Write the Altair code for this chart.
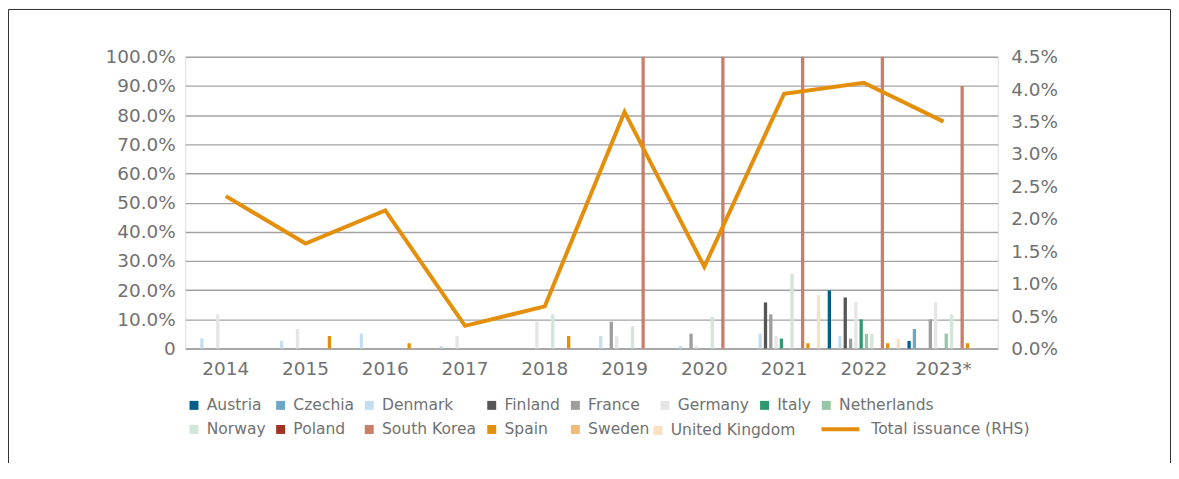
import altair as alt
import pandas as pd

years = ["2014", "2015", "2016", "2017", "2018", "2019", "2020", "2021", "2022", "2023*"]
countries = ["Austria", "Czechia", "Denmark", "Finland", "France", "Germany", "Italy",
             "Netherlands", "Norway", "Poland", "South Korea", "Spain", "Sweden", "United Kingdom"]
colors = ["#005f89", "#6ea6c6", "#c4def0", "#555555", "#9d9d9d", "#e5e5e5", "#2f9a6f",
          "#97c6a6", "#d1e5d8", "#a03421", "#c97e68", "#e48f0b", "#f0ba78", "#fbdfc1"]

# share of issuance by country, percent
austria = [0, 0, 0, 0, 0, 0, 0, 0, 19.9, 2.6]
czechia = [0, 0, 0, 0, 0, 0, 0, 0, 0, 6.7]
denmark = [3.4, 2.6, 5.1, 0.9, 0, 4.3, 0.9, 5.1, 4.3, 0]
finland = [0, 0, 0, 0, 0, 0, 0, 15.8, 17.5, 0]
france = [0, 0, 0, 0, 0, 9.2, 5.1, 11.7, 3.4, 10.0]
germany = [11.7, 6.7, 0, 4.3, 9.2, 4.2, 0.9, 4.3, 15.8, 15.8]
italy = [0, 0, 0, 0, 0, 0, 0, 3.4, 10.0, 0]
netherlands = [0, 0, 0, 0, 0, 0, 0, 0, 5.0, 5.1]
norway = [0, 0, 0, 0, 11.7, 7.6, 10.8, 25.7, 5.0, 11.7]
poland = [0, 0, 0, 0, 0, 0, 0, 0, 0, 0]
south_korea = [0, 0, 0, 0, 0, 100, 100, 100, 100, 90]
spain = [0, 4.3, 1.8, 0, 4.3, 0, 0, 1.8, 1.8, 1.8]
sweden = [0, 0, 0, 0, 0, 0, 0, 0, 0, 0]
united_kingdom = [0, 0, 0, 0, 0, 0, 0, 18.3, 3.4, 0]

# total issuance (RHS), percent
total_issuance = [2.35, 1.62, 2.13, 0.35, 0.65, 3.65, 1.26, 3.93, 4.10, 3.50]

series = [austria, czechia, denmark, finland, france, germany, italy, netherlands,
          norway, poland, south_korea, spain, sweden, united_kingdom]

rows = []
for c, vals in zip(countries, series):
    for y, v in zip(years, vals):
        rows.append({"year": y, "country": c, "share": v / 100})
bars_df = pd.DataFrame(rows)
main_df = bars_df[bars_df["country"] != "United Kingdom"]
uk_df = bars_df[bars_df["country"] == "United Kingdom"]
line_df = pd.DataFrame({"year": years,
                        "total": [v / 100 for v in total_issuance],
                        "series": ["Total issuance (RHS)"] * len(years)})

TXT = "#717171"
FONT = "DejaVu Sans"

x_scale = alt.Scale(domain=years, paddingInner=0.094, paddingOuter=0.1406, align=0.196)
x_enc = alt.X("year:N", scale=x_scale, sort=years,
              axis=alt.Axis(title=None, labelAngle=0, ticks=False, labelPadding=11,
                            labelFontSize=18.5, labelColor=TXT, labelFont=FONT,
                            domainColor="#a3a3a3", domainWidth=1.6, grid=False))
xoff_enc = alt.XOffset("country:N", sort=countries,
                       scale=alt.Scale(domain=countries, paddingInner=0.38, paddingOuter=0))
y_left_scale = alt.Scale(domain=[0, 1], nice=False)

legend_common = dict(title=None, orient="none", symbolType="square", symbolSize=81,
                     symbolStrokeWidth=0, labelOffset=5, labelFontSize=15.6,
                     labelColor=TXT, labelFont=FONT, padding=0)

bars = alt.Chart(main_df).mark_bar().encode(
    x=x_enc,
    xOffset=xoff_enc,
    y=alt.Y("share:Q", scale=y_left_scale,
            axis=alt.Axis(title=None, orient="left",
                          values=[i / 10 for i in range(11)],
                          labelExpr="datum.value == 0 ? '0' : format(datum.value, '.1%')",
                          grid=True, gridColor="#a3a3a3", gridWidth=1.3,
                          domain=False, ticks=False, labelPadding=10,
                          labelFontSize=18.5, labelColor=TXT, labelFont=FONT)),
    color=alt.Color("country:N", scale=alt.Scale(domain=countries[:-1], range=colors[:-1]),
                    legend=alt.Legend(legendX=1, legendY=342, direction="horizontal",
                                      columns=8, columnPadding=7, rowPadding=7.5,
                                      **legend_common)),
)

uk_bars = alt.Chart(uk_df).mark_bar().encode(
    x=x_enc,
    xOffset=xoff_enc,
    y=alt.Y("share:Q", scale=y_left_scale, axis=None),
    fill=alt.Fill("country:N", scale=alt.Scale(domain=countries[-1:], range=colors[-1:]),
                  legend=alt.Legend(legendX=467, legendY=367.5, **legend_common)),
)

line = alt.Chart(line_df).mark_line(strokeWidth=4).encode(
    x=x_enc,
    y=alt.Y("total:Q", scale=alt.Scale(domain=[0, 0.045], nice=False),
            axis=alt.Axis(title=None, orient="right",
                          values=[i * 0.005 for i in range(10)], format=".1%",
                          grid=False, domain=False, ticks=False, labelPadding=13,
                          labelFontSize=18.5, labelColor=TXT, labelFont=FONT)),
    stroke=alt.Stroke("series:N",
                      scale=alt.Scale(domain=["Total issuance (RHS)"], range=["#e48f0b"]),
                      legend=alt.Legend(title=None, orient="none", legendX=637, legendY=353,
                                        symbolType="stroke", symbolSize=1444,
                                        symbolStrokeWidth=4, labelOffset=10,
                                        labelFontSize=15.6, labelColor=TXT, labelFont=FONT,
                                        padding=0)),
)

frame_df = pd.DataFrame({"k": [0]})
frame_left = alt.Chart(frame_df).mark_rule(color="#303030", strokeWidth=1).encode(
    x=alt.value(-177.5), y=alt.value(-47.5), y2=alt.value(420))
frame_right = alt.Chart(frame_df).mark_rule(color="#303030", strokeWidth=1).encode(
    x=alt.value(989.5), y=alt.value(-47.5), y2=alt.value(420))
frame_top = alt.Chart(frame_df).mark_rule(color="#303030", strokeWidth=1).encode(
    x=alt.value(-177.5), x2=alt.value(989.5), y=alt.value(-47.5))

chart = alt.layer(bars, uk_bars, line, frame_left, frame_right, frame_top).resolve_scale(
    y="independent"
).properties(
    width=816, height=293,
    autosize=alt.AutoSizeParams(type="none"),
    padding={"left": 178, "top": 48, "right": 174, "bottom": 114},
).configure_view(stroke=None).configure(font=FONT)

chart.save("out.html", embed_options={"renderer": "svg", "actions": False})
